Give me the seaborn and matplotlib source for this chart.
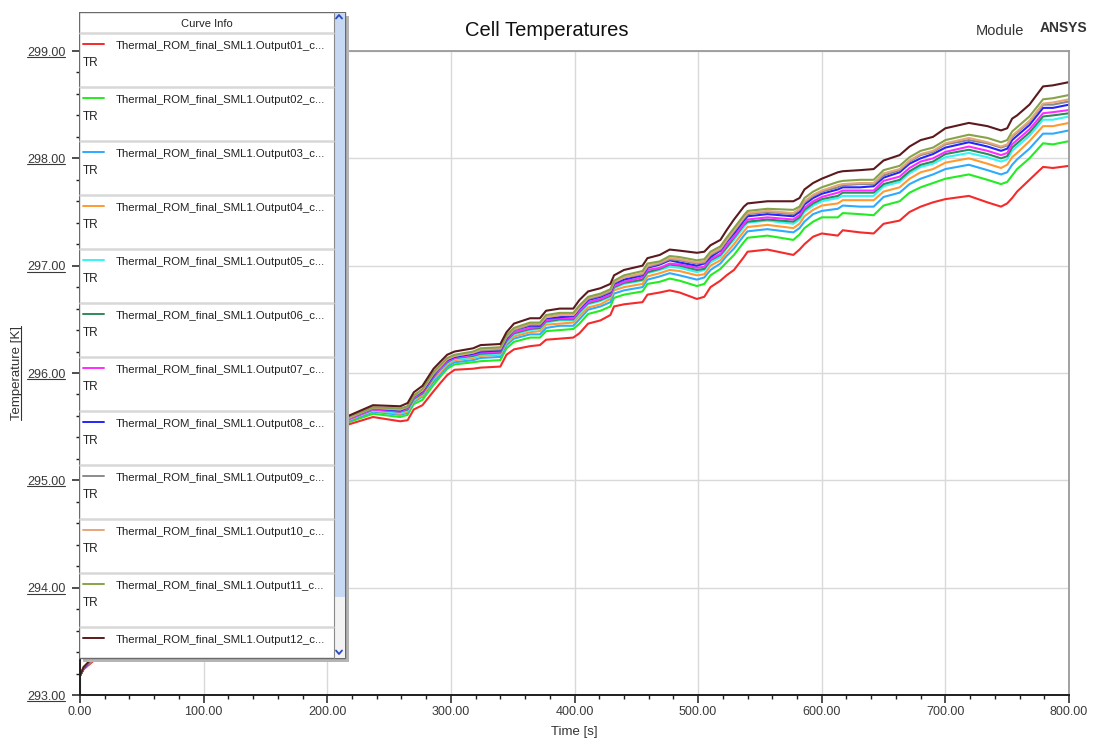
import matplotlib
matplotlib.use("Agg")
import matplotlib.pyplot as plt
from matplotlib.lines import Line2D
from matplotlib.patches import Rectangle
from matplotlib.transforms import IdentityTransform
from matplotlib.ticker import MultipleLocator, FormatStrFormatter
import pandas as pd
import seaborn as sns

# ---------------------------------------------------------------- data
time_s = [0, 3, 8, 15, 40, 80, 120, 160, 200, 214,
          217, 237, 259, 265, 270, 277, 286, 291, 297, 303,
          318, 324, 340, 345, 351, 364, 372, 377, 388, 399,
          404, 411, 421, 429, 432, 440, 455, 459, 469, 477,
          485, 499, 505, 510, 518, 523, 529, 537, 540, 556,
          577, 582, 586, 593, 600, 613, 617, 631, 642, 650,
          663, 671, 680, 690, 700, 719, 734, 745, 750, 754,
          758, 768, 779, 787, 800]

out01 = [293.18, 293.24, 293.29, 293.36, 293.70, 294.18, 294.62, 294.96, 295.28, 295.38,
         295.52, 295.59, 295.55, 295.56, 295.66, 295.70, 295.83, 295.90, 295.98, 296.03,
         296.04, 296.05, 296.06, 296.17, 296.22, 296.25, 296.26, 296.31, 296.32, 296.33,
         296.37, 296.46, 296.49, 296.54, 296.62, 296.64, 296.66, 296.73, 296.75, 296.77,
         296.75, 296.69, 296.71, 296.80, 296.86, 296.91, 296.96, 297.08, 297.13, 297.15,
         297.10, 297.15, 297.20, 297.27, 297.30, 297.28, 297.33, 297.31, 297.30, 297.39,
         297.42, 297.50, 297.55, 297.59, 297.62, 297.65, 297.59, 297.55, 297.58, 297.63,
         297.69, 297.80, 297.92, 297.91, 297.93]
out02 = [293.18, 293.25, 293.30, 293.37, 293.71, 294.20, 294.64, 294.99, 295.31, 295.41,
         295.54, 295.62, 295.59, 295.61, 295.71, 295.75, 295.89, 295.96, 296.04, 296.08,
         296.10, 296.11, 296.12, 296.23, 296.29, 296.33, 296.33, 296.39, 296.40, 296.41,
         296.46, 296.55, 296.58, 296.62, 296.70, 296.73, 296.76, 296.83, 296.85, 296.88,
         296.86, 296.81, 296.83, 296.91, 296.97, 297.03, 297.10, 297.22, 297.26, 297.28,
         297.24, 297.29, 297.35, 297.41, 297.45, 297.45, 297.49, 297.48, 297.47, 297.56,
         297.60, 297.68, 297.73, 297.77, 297.81, 297.85, 297.80, 297.76, 297.78, 297.84,
         297.90, 298.00, 298.14, 298.13, 298.16]
out03 = [293.18, 293.25, 293.30, 293.38, 293.72, 294.21, 294.65, 295.00, 295.32, 295.42,
         295.55, 295.64, 295.61, 295.63, 295.73, 295.78, 295.92, 295.98, 296.06, 296.10,
         296.12, 296.14, 296.15, 296.26, 296.32, 296.36, 296.36, 296.42, 296.44, 296.44,
         296.50, 296.59, 296.62, 296.66, 296.74, 296.77, 296.80, 296.87, 296.90, 296.93,
         296.91, 296.87, 296.89, 296.96, 297.02, 297.09, 297.16, 297.28, 297.32, 297.34,
         297.31, 297.35, 297.41, 297.48, 297.51, 297.53, 297.56, 297.55, 297.55, 297.64,
         297.68, 297.76, 297.81, 297.85, 297.90, 297.94, 297.89, 297.85, 297.87, 297.94,
         297.99, 298.09, 298.23, 298.23, 298.26]
out04 = [293.18, 293.25, 293.31, 293.38, 293.73, 294.22, 294.66, 295.01, 295.33, 295.43,
         295.56, 295.65, 295.62, 295.64, 295.74, 295.79, 295.94, 296.00, 296.08, 296.12,
         296.14, 296.16, 296.17, 296.28, 296.34, 296.38, 296.39, 296.45, 296.46, 296.47,
         296.53, 296.61, 296.64, 296.69, 296.77, 296.80, 296.83, 296.90, 296.93, 296.96,
         296.95, 296.91, 296.92, 297.00, 297.05, 297.12, 297.20, 297.32, 297.36, 297.38,
         297.35, 297.39, 297.46, 297.52, 297.56, 297.58, 297.61, 297.61, 297.61, 297.69,
         297.73, 297.81, 297.87, 297.90, 297.96, 298.00, 297.95, 297.91, 297.94, 298.01,
         298.05, 298.16, 298.30, 298.30, 298.33]
out05 = [293.18, 293.25, 293.31, 293.38, 293.73, 294.22, 294.67, 295.01, 295.34, 295.43,
         295.57, 295.65, 295.63, 295.65, 295.75, 295.81, 295.95, 296.02, 296.09, 296.13,
         296.15, 296.17, 296.18, 296.29, 296.36, 296.40, 296.41, 296.47, 296.49, 296.49,
         296.55, 296.64, 296.67, 296.71, 296.79, 296.83, 296.86, 296.93, 296.96, 296.99,
         296.98, 296.94, 296.96, 297.03, 297.08, 297.16, 297.24, 297.36, 297.40, 297.42,
         297.39, 297.43, 297.50, 297.56, 297.60, 297.63, 297.65, 297.65, 297.65, 297.74,
         297.78, 297.86, 297.92, 297.95, 298.01, 298.05, 298.01, 297.97, 297.99, 298.07,
         298.11, 298.21, 298.36, 298.36, 298.39]
out06 = [293.18, 293.25, 293.31, 293.39, 293.73, 294.22, 294.67, 295.02, 295.34, 295.44,
         295.57, 295.66, 295.64, 295.66, 295.76, 295.81, 295.96, 296.03, 296.10, 296.14,
         296.16, 296.18, 296.19, 296.30, 296.37, 296.41, 296.42, 296.48, 296.50, 296.50,
         296.57, 296.65, 296.68, 296.72, 296.80, 296.84, 296.87, 296.94, 296.97, 297.01,
         297.00, 296.96, 296.97, 297.05, 297.10, 297.17, 297.26, 297.38, 297.41, 297.43,
         297.41, 297.45, 297.52, 297.58, 297.62, 297.65, 297.68, 297.68, 297.68, 297.76,
         297.80, 297.88, 297.94, 297.97, 298.04, 298.08, 298.04, 298.00, 298.02, 298.10,
         298.14, 298.24, 298.39, 298.40, 298.42]
out07 = [293.18, 293.25, 293.31, 293.39, 293.73, 294.23, 294.67, 295.02, 295.35, 295.44,
         295.57, 295.66, 295.64, 295.67, 295.77, 295.82, 295.97, 296.03, 296.11, 296.14,
         296.17, 296.19, 296.20, 296.31, 296.38, 296.42, 296.43, 296.49, 296.51, 296.51,
         296.58, 296.66, 296.69, 296.73, 296.81, 296.85, 296.89, 296.96, 296.98, 297.02,
         297.01, 296.98, 296.99, 297.06, 297.11, 297.19, 297.27, 297.39, 297.43, 297.45,
         297.43, 297.47, 297.54, 297.60, 297.64, 297.68, 297.70, 297.70, 297.70, 297.79,
         297.83, 297.91, 297.97, 298.00, 298.06, 298.11, 298.07, 298.03, 298.05, 298.13,
         298.17, 298.27, 298.42, 298.43, 298.45]
out08 = [293.18, 293.25, 293.31, 293.39, 293.74, 294.23, 294.68, 295.03, 295.35, 295.45,
         295.58, 295.67, 295.65, 295.68, 295.78, 295.83, 295.98, 296.05, 296.12, 296.15,
         296.18, 296.20, 296.21, 296.32, 296.40, 296.44, 296.44, 296.51, 296.52, 296.53,
         296.60, 296.68, 296.71, 296.75, 296.83, 296.87, 296.91, 296.98, 297.01, 297.05,
         297.03, 297.00, 297.02, 297.08, 297.14, 297.22, 297.30, 297.42, 297.46, 297.48,
         297.46, 297.50, 297.57, 297.63, 297.67, 297.71, 297.73, 297.73, 297.74, 297.82,
         297.87, 297.95, 298.00, 298.04, 298.10, 298.15, 298.11, 298.07, 298.09, 298.17,
         298.21, 298.31, 298.47, 298.47, 298.50]
out09 = [293.18, 293.26, 293.31, 293.39, 293.74, 294.23, 294.68, 295.03, 295.36, 295.45,
         295.58, 295.67, 295.66, 295.68, 295.78, 295.84, 295.99, 296.05, 296.13, 296.16,
         296.19, 296.21, 296.22, 296.33, 296.40, 296.45, 296.45, 296.52, 296.54, 296.54,
         296.61, 296.69, 296.72, 296.76, 296.84, 296.89, 296.92, 296.99, 297.02, 297.06,
         297.05, 297.02, 297.03, 297.10, 297.15, 297.23, 297.32, 297.44, 297.48, 297.50,
         297.48, 297.52, 297.59, 297.65, 297.69, 297.73, 297.75, 297.76, 297.76, 297.84,
         297.89, 297.97, 298.03, 298.06, 298.13, 298.17, 298.14, 298.10, 298.12, 298.20,
         298.24, 298.34, 298.50, 298.50, 298.53]
out10 = [293.18, 293.26, 293.31, 293.39, 293.74, 294.24, 294.68, 295.03, 295.36, 295.45,
         295.58, 295.68, 295.66, 295.69, 295.79, 295.84, 296.00, 296.06, 296.13, 296.16,
         296.19, 296.22, 296.23, 296.34, 296.41, 296.46, 296.46, 296.52, 296.54, 296.54,
         296.61, 296.70, 296.73, 296.77, 296.85, 296.89, 296.93, 297.00, 297.03, 297.07,
         297.06, 297.03, 297.04, 297.11, 297.16, 297.24, 297.33, 297.45, 297.49, 297.51,
         297.49, 297.53, 297.60, 297.66, 297.70, 297.75, 297.76, 297.77, 297.77, 297.86,
         297.90, 297.98, 298.04, 298.07, 298.14, 298.19, 298.15, 298.11, 298.13, 298.21,
         298.25, 298.35, 298.51, 298.52, 298.55]
out11 = [293.18, 293.26, 293.32, 293.39, 293.74, 294.24, 294.69, 295.04, 295.36, 295.46,
         295.59, 295.68, 295.67, 295.69, 295.79, 295.85, 296.01, 296.07, 296.14, 296.17,
         296.20, 296.23, 296.24, 296.35, 296.42, 296.47, 296.47, 296.54, 296.56, 296.56,
         296.63, 296.71, 296.74, 296.78, 296.86, 296.91, 296.95, 297.02, 297.04, 297.09,
         297.08, 297.05, 297.06, 297.13, 297.18, 297.26, 297.35, 297.47, 297.51, 297.53,
         297.52, 297.55, 297.63, 297.69, 297.73, 297.78, 297.79, 297.80, 297.80, 297.89,
         297.93, 298.01, 298.07, 298.10, 298.17, 298.22, 298.19, 298.15, 298.17, 298.25,
         298.29, 298.39, 298.55, 298.56, 298.59]
out12 = [293.18, 293.26, 293.32, 293.40, 293.75, 294.25, 294.70, 295.05, 295.38, 295.47,
         295.60, 295.70, 295.69, 295.72, 295.82, 295.88, 296.04, 296.10, 296.17, 296.20,
         296.23, 296.26, 296.27, 296.38, 296.46, 296.51, 296.51, 296.58, 296.60, 296.60,
         296.68, 296.76, 296.79, 296.83, 296.91, 296.96, 297.00, 297.07, 297.10, 297.15,
         297.14, 297.12, 297.13, 297.19, 297.24, 297.33, 297.43, 297.55, 297.58, 297.60,
         297.60, 297.63, 297.71, 297.77, 297.81, 297.87, 297.88, 297.89, 297.90, 297.98,
         298.03, 298.11, 298.17, 298.20, 298.28, 298.33, 298.30, 298.26, 298.28, 298.37,
         298.40, 298.50, 298.67, 298.68, 298.71]

outputs = [out01, out02, out03, out04, out05, out06,
           out07, out08, out09, out10, out11, out12]
curve_labels = [f"Thermal_ROM_final_SML1.Output{i:02d}_c..." for i in range(1, 13)]
curve_colors = ["#f52a2a", "#22ec22", "#2eaaff", "#ff9a30", "#35f5f5", "#2e8b57",
                "#ff2cff", "#2424ff", "#8a8a8a", "#e6a679", "#86a34a", "#5b1a1d"]

df = pd.concat(
    [pd.DataFrame({"Time [s]": time_s, "Temperature [K]": vals, "curve": lab})
     for lab, vals in zip(curve_labels, outputs)],
    ignore_index=True,
)

# ---------------------------------------------------------------- style
sns.set_theme(style="white")
plt.rcParams["font.family"] = ["Liberation Sans", "DejaVu Sans"]

W, H = 1093, 745
fig = plt.figure(figsize=(W / 100, H / 100), dpi=100)
fig.patch.set_facecolor("white")

# plot area in pixel terms: x 80..1069, y 51..695
ax = fig.add_axes([80 / W, 1 - 695 / H, 989 / W, 644 / H])

sns.lineplot(data=df, x="Time [s]", y="Temperature [K]", hue="curve",
             palette=dict(zip(curve_labels, curve_colors)), hue_order=curve_labels,
             estimator=None, sort=False, linewidth=1.5, legend=False, ax=ax)

ax.set_xlim(0, 800)
ax.set_ylim(293, 299)
ax.xaxis.set_major_locator(MultipleLocator(100))
ax.xaxis.set_minor_locator(MultipleLocator(20))
ax.yaxis.set_major_locator(MultipleLocator(1))
ax.yaxis.set_minor_locator(MultipleLocator(0.2))
ax.xaxis.set_major_formatter(FormatStrFormatter("%.2f"))
ax.yaxis.set_major_formatter(FormatStrFormatter("%.2f"))

ax.grid(True, which="major", color="#d9d9d9", linewidth=1.0)
ax.set_axisbelow(True)

for side in ("left", "bottom"):
    ax.spines[side].set_color("#1e1e1e")
    ax.spines[side].set_linewidth(1.4)
for side in ("top", "right"):
    ax.spines[side].set_color("#9a9a9a")
    ax.spines[side].set_linewidth(1.3)

ax.tick_params(axis="both", which="major", direction="out", length=5.5, width=1.1,
               color="#1e1e1e", labelsize=9, labelcolor="#3a3a3a")
ax.tick_params(axis="both", which="minor", direction="out", length=3, width=1.0,
               color="#1e1e1e")
ax.tick_params(axis="x", which="major", pad=2.5)
ax.tick_params(axis="y", which="major", pad=5)
ax.tick_params(left=True, bottom=True, which="both")

ax.set_xlabel("Time [s]", fontsize=9.5, color="#333333")
ax.set_ylabel("Temperature [K]", fontsize=9.5, color="#333333")
ax.xaxis.set_label_coords(0.5, -0.048)
ax.yaxis.set_label_coords(-0.058, 0.5)

fig.text(0.5, 1 - 31 / H, "Cell Temperatures", ha="center", va="center",
         fontsize=14.5, color="#111111")
fig.text(1000 / W, 1 - 31 / H, "Module", ha="center", va="center",
         fontsize=10.5, color="#333333")
fig.text(1063 / W, 1 - 28 / H, "ANSYS", ha="center", va="center",
         fontsize=10, fontweight="bold", color="#333333")

# ---------------------------------------------------------------- curve info panel
lg = fig.add_axes([79 / W, 1 - 662 / H, (350 - 79) / W, (662 - 12) / H])
lg.set_xlim(79, 350)
lg.set_ylim(662, 12)
lg.axis("off")

lg.add_patch(Rectangle((83, 16), 266, 646, facecolor="#b5b5b5", edgecolor="none"))
lg.add_patch(Rectangle((79, 12), 266, 646, facecolor="white",
                       edgecolor="#6a6a6a", linewidth=1.0))
# scroll bar
lg.add_patch(Rectangle((333.5, 12.5), 11, 584, facecolor="#c6d8f2", edgecolor="none"))
lg.add_patch(Rectangle((333.5, 596.5), 11, 61, facecolor="#f3f3f3", edgecolor="none"))
lg.plot([333.5, 333.5], [12, 658], color="#8a8a8a", linewidth=0.8)
lg.plot([336, 339, 342], [18.5, 15, 18.5], color="#2848c8", linewidth=1.3)
lg.plot([336, 339, 342], [650.5, 654, 650.5], color="#2848c8", linewidth=1.3)

lg.text(207, 24, "Curve Info", ha="center", va="center", fontsize=8, color="#222222")

row_h = 54
for i, (lab, col) in enumerate(zip(curve_labels, curve_colors)):
    top = 33 + row_h * i
    lg.plot([80, 333], [top, top], color="#d8d8d8", linewidth=1.8)
    lg.plot([83, 104], [top + 11, top + 11], color=col, linewidth=1.4)
    lg.text(116, top + 13, lab, ha="left", va="center", fontsize=8.2, color="#222222")
    if i < len(curve_labels) - 1:
        lg.text(83, top + 29.5, "TR", ha="left", va="center", fontsize=8.5, color="#222222")

# ---------------------------------------------------------------- underlined labels
fig.canvas.draw()
renderer = fig.canvas.get_renderer()
for lbl in ax.get_yticklabels():
    if lbl.get_text():
        bb = lbl.get_window_extent(renderer)
        fig.add_artist(Line2D([bb.x0, bb.x1], [bb.y0 + 1.5, bb.y0 + 1.5],
                              transform=IdentityTransform(), color="#3a3a3a", linewidth=0.8))
bb = ax.yaxis.label.get_window_extent(renderer)
fig.add_artist(Line2D([bb.x1 - 1.5, bb.x1 - 1.5], [bb.y0, bb.y1],
                      transform=IdentityTransform(), color="#333333", linewidth=0.8))

fig.savefig("out.png", dpi=100, facecolor="white")
